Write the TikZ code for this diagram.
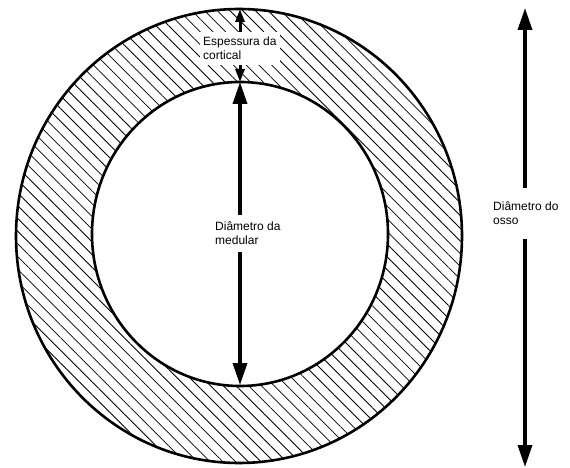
\documentclass[tikz,border=0pt]{standalone}
\usepackage{fontspec}
\setmainfont{Liberation Sans}
\usetikzlibrary{arrows.meta,patterns.meta}
\tikzset{
  ring/.style={line width=2.6pt},
  hatch/.style={pattern={Lines[angle=-45, distance=9pt, line width=0.8pt]}},
  dimlabel/.style={align=left, font=\fontsize{12}{14}\selectfont, inner sep=0pt},
  dimwire/.style={-{Triangle[length=22pt, width=14pt]}, line width=3.4pt},
  thinwire/.style={-{Triangle[length=13pt, width=9pt]}, line width=3pt}
}
\begin{document}
\begin{tikzpicture}[x=1pt, y=-1pt]
  \useasboundingbox (0,0) rectangle (570,468);
  % bone section
  \path[hatch, even odd rule] (239,236) ellipse [x radius=223, y radius=227]
    (240,234) ellipse [x radius=148, y radius=152];
  \draw[ring] (239,236) ellipse [x radius=223, y radius=227];
  \draw[ring] (240,234) ellipse [x radius=148, y radius=152];
  \coordinate (outertop) at (240,9);
  \coordinate (innertop) at (240,82);
  \coordinate (innerbot) at (240,385);
  \coordinate (ossotop) at (525,8);
  \coordinate (ossobot) at (525,467);
  % labels
  \node[dimlabel, fill=white, inner xsep=3pt, inner ysep=5pt, anchor=north west]
    (cortlabel) at (200,32) {Espessura da\\cortical};
  \node[dimlabel, inner ysep=7pt, anchor=north west]
    (medlabel) at (215,215) {Diâmetro da\\medular};
  \node[dimlabel, inner ysep=14pt, anchor=north west]
    (ossolabel) at (493,188) {Diâmetro do\\osso};
  % dimension arrows
  \draw[thinwire] (cortlabel.north -| outertop) -- (outertop);
  \draw[thinwire] (cortlabel.south -| innertop) -- (innertop);
  \draw[dimwire] (medlabel.north -| innertop) -- (innertop);
  \draw[dimwire] (medlabel.south -| innerbot) -- (innerbot);
  \draw[dimwire] (ossolabel.north -| ossotop) -- (ossotop);
  \draw[dimwire] (ossolabel.south -| ossobot) -- (ossobot);
\end{tikzpicture}
\end{document}
